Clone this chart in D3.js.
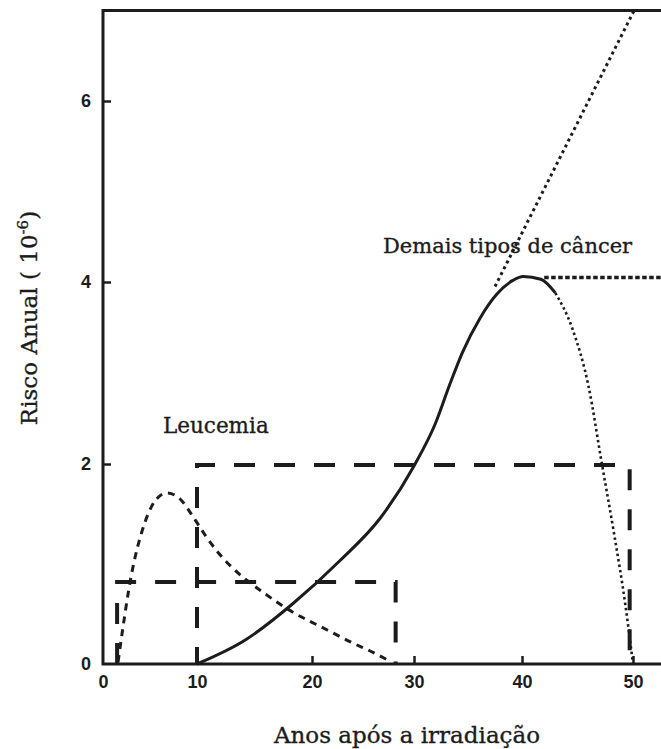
<!DOCTYPE html>
<html>
<head>
<meta charset="utf-8">
<script src="https://cdn.jsdelivr.net/npm/d3@7"></script>
<style>
  body { margin: 0; background: #fff; }
  svg { display: block; }
</style>
</head>
<body>
<svg id="chart" width="661" height="749"></svg>
<script>
// tick values
var xTickValues = [0, 10, 20, 30, 40, 50];
var yTickValues = [0, 2, 4, 6];

// solid curve: other cancers (years, risk)
var cancerYears = [10, 14.2, 18.3, 22.7, 26.7, 30, 32.0, 33.3, 34.5, 36.1, 37.7, 39.2, 40.1, 41.7, 43.0];
var cancerRisk  = [0, 0.24, 0.6, 1.03, 1.46, 1.98, 2.45, 2.87, 3.23, 3.6, 3.87, 4.02, 4.06, 4.03, 3.88];

// dotted tail of the cancer curve
var tailYears = [43.0, 44.5, 46.0, 47.2, 48.3, 49.3, 50.0];
var tailRisk  = [3.88, 3.5, 2.85, 2.0, 1.3, 0.6, 0];

// dotted straight extrapolation and plateau
var linearYears = [37.5, 50.1];
var linearRisk  = [3.95, 7.0];
var plateauYears = [42, 52.6];
var plateauRisk  = [4.05, 4.05];

// leukemia dashed curve
var leukYears = [1.6, 2.1, 2.7, 3.3, 4.0, 4.8, 5.6, 6.8, 8.2, 9.6, 10.7, 11.8, 13.1, 14.3, 15.7, 18.3, 21.5, 24.0, 25.7, 27.6];
var leukRisk  = [0.02, 0.35, 0.72, 1.02, 1.28, 1.5, 1.64, 1.71, 1.65, 1.47, 1.29, 1.12, 0.96, 0.84, 0.72, 0.52, 0.34, 0.21, 0.13, 0.03];

// dashed step boxes [start year, end year, level]
var leukBox   = [1.5, 28.2, 0.82];
var cancerBox = [10, 49.7, 1.99];

var xMax = 52.6, yMax = 7;

var svg = d3.select('#chart');

// the printed axis is drawn by hand, so the scale is piecewise
var x = d3.scaleLinear()
    .domain(xTickValues)
    .range([103, 197, 312, 414, 522, 633]);
var y = d3.scaleLinear()
    .domain(yTickValues)
    .range([664, 464, 282, 101]);

var ink = '#1c1c1c';

function zip(a, b) {
    return a.map(function(d, i) { return [d, b[i]]; });
}

var line = d3.line()
    .x(function(d) { return x(d[0]); })
    .y(function(d) { return y(d[1]); })
    .curve(d3.curveMonotoneX);

var straight = d3.line()
    .x(function(d) { return x(d[0]); })
    .y(function(d) { return y(d[1]); });

// boxes
function boxPath(b) {
    return straight([[b[0], 0], [b[0], b[2]], [b[1], b[2]], [b[1], 0]]);
}
svg.append('path')
    .attr('d', boxPath(leukBox))
    .attr('fill', 'none')
    .attr('stroke', ink)
    .attr('stroke-width', 4)
    .attr('stroke-dasharray', '21,19');
svg.append('path')
    .attr('d', boxPath(cancerBox))
    .attr('fill', 'none')
    .attr('stroke', ink)
    .attr('stroke-width', 4)
    .attr('stroke-dasharray', '21,19')
    .attr('stroke-dashoffset', 4);

// leukemia
svg.append('path')
    .attr('d', line(zip(leukYears, leukRisk)))
    .attr('fill', 'none')
    .attr('stroke', ink)
    .attr('stroke-width', 3)
    .attr('stroke-dasharray', '7,6');

// cancer curve
svg.append('path')
    .attr('d', line(zip(cancerYears, cancerRisk)))
    .attr('fill', 'none')
    .attr('stroke', ink)
    .attr('stroke-width', 3);

svg.append('path')
    .attr('d', line(zip(tailYears, tailRisk)))
    .attr('fill', 'none')
    .attr('stroke', ink)
    .attr('stroke-width', 2.6)
    .attr('stroke-dasharray', '2.5,3');

svg.append('path')
    .attr('d', straight(zip(linearYears, linearRisk)))
    .attr('fill', 'none')
    .attr('stroke', ink)
    .attr('stroke-width', 3)
    .attr('stroke-dasharray', '3,3.5');

svg.append('path')
    .attr('d', straight(zip(plateauYears, plateauRisk)))
    .attr('fill', 'none')
    .attr('stroke', ink)
    .attr('stroke-width', 3.5)
    .attr('stroke-dasharray', '4.5,2.5');

// frame
svg.append('path')
    .attr('d', straight([[xMax, yMax], [0, yMax], [0, 0], [xMax, 0]]))
    .attr('fill', 'none')
    .attr('stroke', ink)
    .attr('stroke-width', 3);

// axes
var xAxis = d3.axisBottom(x)
    .tickValues(xTickValues)
    .tickFormat(d3.format('d'))
    .tickSizeInner(-8)
    .tickSizeOuter(0)
    .tickPadding(11);
var gx = svg.append('g')
    .attr('transform', 'translate(0,' + y(0) + ')')
    .call(xAxis);

var yAxis = d3.axisLeft(y)
    .tickValues(yTickValues)
    .tickFormat(d3.format('d'))
    .tickSizeInner(-8)
    .tickSizeOuter(0)
    .tickPadding(12);
var gy = svg.append('g')
    .attr('transform', 'translate(' + x(0) + ',0)')
    .call(yAxis);

[gx, gy].forEach(function(g) {
    g.select('.domain').remove();
    g.selectAll('.tick line').attr('stroke', ink).attr('stroke-width', 2.5);
    g.selectAll('.tick text')
        .attr('fill', ink)
        .style('font-family', '"Liberation Sans", Arial, sans-serif')
        .style('font-weight', 'bold')
        .style('font-size', '18px');
    g.selectAll('.tick').filter(function(d) { return d === 0; }).select('line').remove();
});

// labels
var serif = '"DejaVu Serif", "Liberation Serif", serif';

function label(sel) {
    return sel.attr('fill', ink)
        .attr('stroke', ink)
        .attr('stroke-width', 0.35)
        .style('font-family', serif);
}

label(svg.append('text'))
    .attr('x', 407)
    .attr('y', 743)
    .attr('text-anchor', 'middle')
    .style('font-size', '23px')
    .text('Anos após a irradiação');

var yl = label(svg.append('text'))
    .attr('transform', 'translate(37,318) rotate(-90)')
    .attr('text-anchor', 'middle')
    .style('font-size', '23px');
yl.append('tspan').text('Risco Anual ( 10');
yl.append('tspan').attr('dy', -9).style('font-size', '15px').text('-6');
yl.append('tspan').attr('dy', 9).text(')');

label(svg.append('text'))
    .attr('x', 163)
    .attr('y', 433)
    .style('font-size', '21.5px')
    .text('Leucemia');

label(svg.append('text'))
    .attr('x', 383)
    .attr('y', 253)
    .style('font-size', '21px')
    .text('Demais tipos de câncer');
</script>
</body>
</html>
